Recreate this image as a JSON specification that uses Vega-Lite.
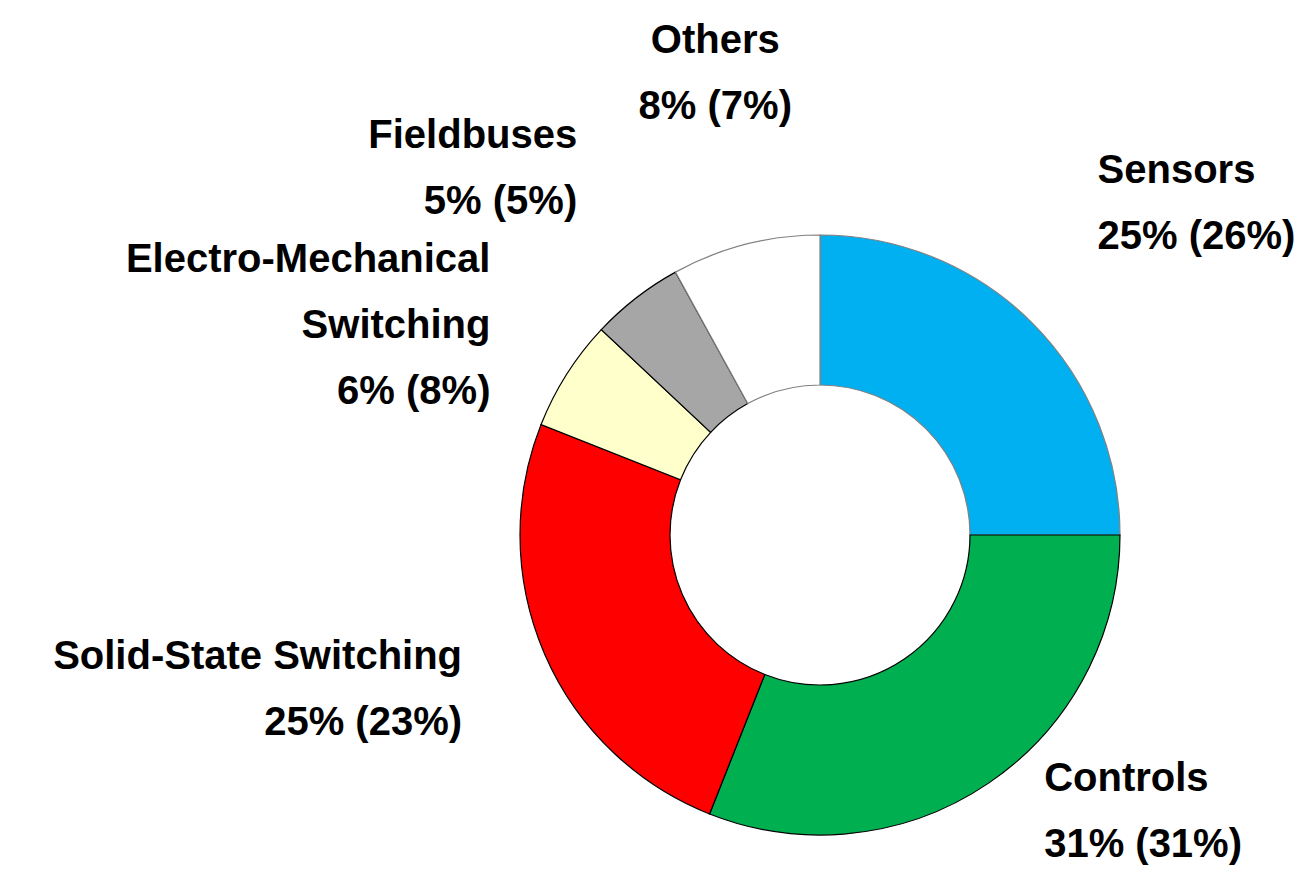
{
  "$schema": "https://vega.github.io/schema/vega-lite/v6.json",
  "width": 600,
  "height": 600,
  "autosize": {"type": "none"},
  "padding": {"left": 520, "top": 235, "right": 179, "bottom": 57},
  "background": "white",
  "view": {"stroke": null},
  "data": {
    "values": [
      {"segment": "Sensors", "value": 25, "rank": 1, "label": "Sensors\n25% (26%)"},
      {"segment": "Controls", "value": 31, "rank": 2, "label": "Controls\n31% (31%)"},
      {"segment": "Solid-State Switching", "value": 25, "rank": 3, "label": "Solid-State Switching\n25% (23%)"},
      {"segment": "Electro-Mechanical Switching", "value": 6, "rank": 4, "label": "Electro-Mechanical\nSwitching\n6% (8%)"},
      {"segment": "Fieldbuses", "value": 5, "rank": 5, "label": "Fieldbuses\n5% (5%)"},
      {"segment": "Others", "value": 8, "rank": 6, "label": "Others\n8% (7%)"}
    ]
  },
  "encoding": {
    "theta": {"field": "value", "type": "quantitative", "stack": true},
    "order": {"field": "rank", "type": "quantitative"}
  },
  "layer": [
    {
      "mark": {"type": "arc", "innerRadius": 150, "outerRadius": 300, "strokeWidth": 1.2},
      "encoding": {
        "color": {
          "field": "segment",
          "type": "nominal",
          "scale": {
            "domain": ["Sensors", "Controls", "Solid-State Switching", "Electro-Mechanical Switching", "Fieldbuses", "Others"],
            "range": ["#00B0F0", "#00B050", "#FF0000", "#FFFFCC", "#A6A6A6", "#FFFFFF"]
          },
          "legend": null
        },
        "stroke": {
          "field": "segment",
          "type": "nominal",
          "scale": {
            "domain": ["Sensors", "Controls", "Solid-State Switching", "Electro-Mechanical Switching", "Fieldbuses", "Others"],
            "range": ["#808080", "#000000", "#000000", "#000000", "#000000", "#808080"]
          },
          "legend": null
        }
      }
    },
    {
      "mark": {
        "type": "text",
        "radius": {"expr": "390 + 40*pow(abs(cos(PI*(datum.value_start + datum.value_end)/100)), 8)"},
        "font": "Liberation Sans",
        "fontSize": 40,
        "fontWeight": "bold",
        "lineBreak": "\n",
        "lineHeight": 66,
        "color": "#000000",
        "align": {"expr": "sin(PI*(datum.value_start + datum.value_end)/100) > 0.35 ? 'left' : (sin(PI*(datum.value_start + datum.value_end)/100) < -0.35 ? 'right' : 'center')"},
        "baseline": {"expr": "abs(sin(PI*(datum.value_start + datum.value_end)/100)) > 0.8 ? 'middle' : 'bottom'"},
        "dy": {"expr": "abs(sin(PI*(datum.value_start + datum.value_end)/100)) > 0.8 ? -33*(length(split(datum.label, '\\n')) - 1) : -66*(length(split(datum.label, '\\n')) - 1)"}
      },
      "encoding": {
        "text": {"field": "label", "type": "nominal"}
      }
    }
  ]
}
